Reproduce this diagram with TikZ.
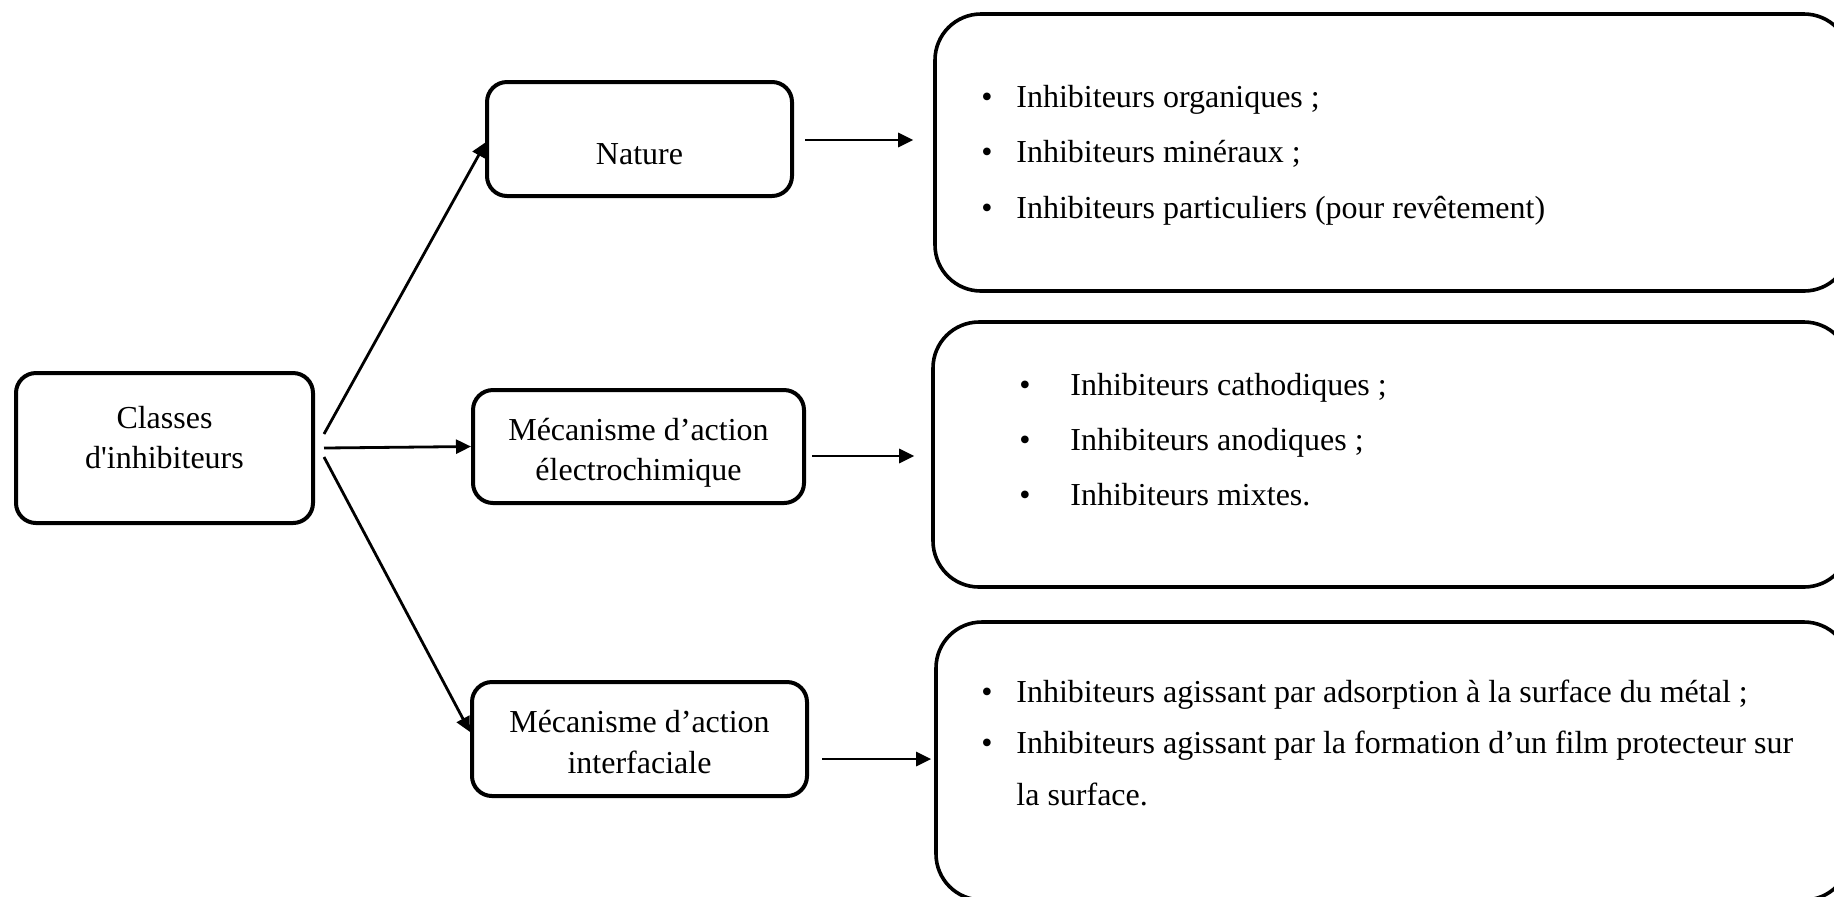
\documentclass[tikz,border=0pt]{standalone}
\usepackage{fontspec}
\setmainfont{Liberation Serif}
\newfontfamily\rawserif{Liberation Serif}
\usetikzlibrary{arrows.meta,calc}
\begin{document}
\begin{tikzpicture}[x=0.5pt,y=-0.5pt,
  smallbox/.style={draw,line width=2pt,rounded corners=10pt,inner sep=0pt},
  bigbox/.style={draw,line width=1.8pt,rounded corners=23pt,inner sep=0pt},
  arr/.style={line width=1.4pt,-{Triangle[length=7.5pt,width=7pt]}},
  txt/.style={anchor=base,inner sep=0pt,font=\fontsize{16}{20}\selectfont},
  btxt/.style={anchor=base west,inner sep=0pt,font=\fontsize{16}{20}\selectfont}]
\clip (0,0) rectangle (1834,896);
\fill[white] (0,0) rectangle (1834,896);
% left boxes
\node[smallbox,minimum width=148.5pt,minimum height=75pt] (classes) at (164.5,448) {};
\node[smallbox,minimum width=152.5pt,minimum height=57pt] (nature) at (639.5,139) {};
\node[smallbox,minimum width=165.5pt,minimum height=56.5pt] (electro) at (638.5,446.5) {};
\node[smallbox,minimum width=167.5pt,minimum height=57pt] (interf) at (639.5,739) {};
% big boxes
\node[bigbox,minimum width=457.5pt,minimum height=138.5pt] (box1) at (1392.5,152.5) {};
\node[bigbox,minimum width=458.5pt,minimum height=132.5pt] (box2) at (1391.5,454.5) {};
\node[bigbox,minimum width=457pt,minimum height=139pt] (box3) at (1393,761) {};
% box texts
\node[txt] (t1a) at (164.5,428) {Classes};
\node[txt] (t1b) at (164.5,468) {\rawserif d'inhibiteurs};
\node[txt] (t2) at (639.5,164) {Nature};
\node[txt] (t3a) at (638.5,440) {Mécanisme d’action};
\node[txt] (t3b) at (638.5,480) {électrochimique};
\node[txt] (t4a) at (639.5,732) {Mécanisme d’action};
\node[txt] (t4b) at (639.5,773) {interfaciale};
% bullets box1
\node[btxt] (b1a) at (981,107) {•};
\node[btxt] (l1a) at (1016,107) {Inhibiteurs organiques ;};
\node[btxt] (b1b) at (981,162.5) {•};
\node[btxt] (l1b) at (1016,162.5) {Inhibiteurs minéraux ;};
\node[btxt] (b1c) at (981,218) {•};
\node[btxt] (l1c) at (1016,218) {Inhibiteurs particuliers (pour revêtement)};
% bullets box2
\node[btxt] (b2a) at (1019,395) {•};
\node[btxt] (l2a) at (1070,395) {Inhibiteurs cathodiques ;};
\node[btxt] (b2b) at (1019,450) {•};
\node[btxt] (l2b) at (1070,450) {Inhibiteurs anodiques ;};
\node[btxt] (b2c) at (1019,505) {•};
\node[btxt] (l2c) at (1070,505) {Inhibiteurs mixtes.};
% bullets box3
\node[btxt] (b3a) at (981,702) {•};
\node[btxt] (l3a) at (1016,702) {Inhibiteurs agissant par adsorption à la surface du métal ;};
\node[btxt] (b3b) at (981,753.5) {•};
\node[btxt] (l3b) at (1016,753.5) {Inhibiteurs agissant par la formation d’un film protecteur sur};
\node[btxt] (l3c) at (1016,805) {la surface.};
% connectors
\draw[arr] ($(classes.east)+(4.5pt,7pt)$) -- ($(nature.west)+(0.5pt,-1.5pt)$);
\draw[arr] ($(classes.east)+(4.5pt,0pt)$) -- (electro.west);
\draw[arr] ($(classes.east)+(4.5pt,-4.5pt)$) -- ($(interf.west)+(0pt,3.5pt)$);
\draw[arr] ($(nature.east)+(5.5pt,-0.5pt)$) -- ($(box1.west |- nature.east)+(-10pt,-0.5pt)$);
\draw[arr] ($(electro.east)+(3pt,-4.75pt)$) -- ($(box2.west |- electro.east)+(-8.5pt,-4.75pt)$);
\draw[arr] ($(interf.east)+(6.5pt,-10pt)$) -- ($(box3.west |- interf.east)+(-1.5pt,-10pt)$);
\end{tikzpicture}
\end{document}
